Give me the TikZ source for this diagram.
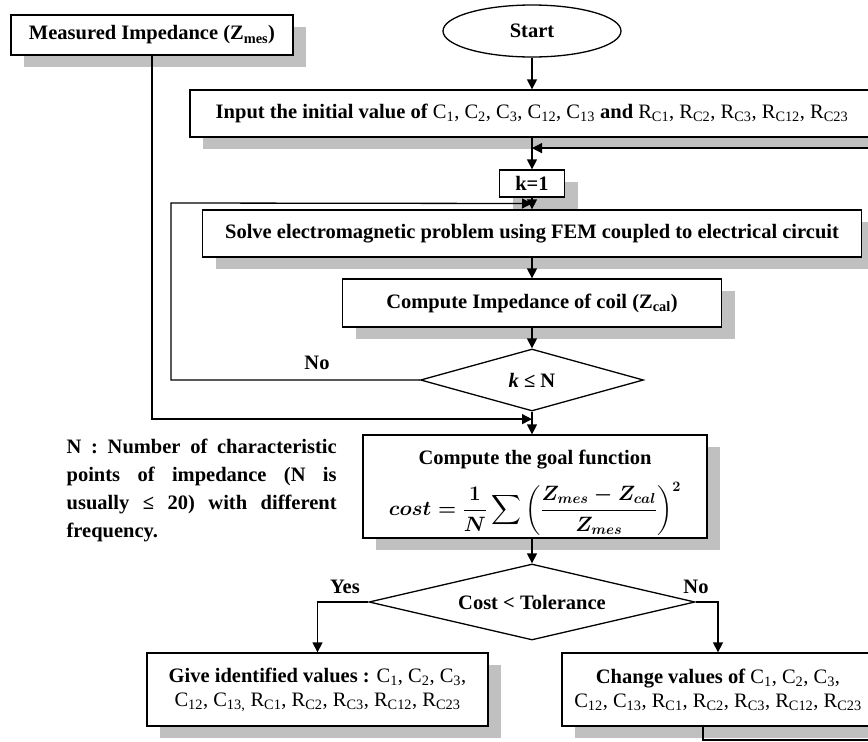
\documentclass[tikz,border=0pt]{standalone}
\usepackage{amsmath}
\usepackage{fontspec}
\setmainfont{Liberation Serif}
\usetikzlibrary{arrows.meta,calc,shapes.geometric,shadows}
\definecolor{shadowgray}{HTML}{C0C0C0}
\newcommand{\Cs}[1]{C\textsubscript{#1}}
\newcommand{\Rs}[1]{R\textsubscript{C#1}}
\newcommand{\costformula}{\raisebox{0pt}[\dimexpr\height+12pt][\dimexpr\depth-12pt]{\mbox{\boldmath$\displaystyle cost=\frac{1}{N}\sum\left(\frac{Z_{mes}-Z_{cal}}{Z_{mes}}\right)^{2}$}}}

\begin{document}
\begin{tikzpicture}[x=1pt,y=-1pt,>={Triangle[length=10pt,width=10pt]},line width=1.3pt,
    every node/.style={font=\fontsize{20.5}{24}\selectfont\bfseries},
    box/.style={draw,fill=white,rectangle,inner sep=2pt,align=center,
        drop shadow={shadow xshift=13pt,shadow yshift=-12pt,fill=shadowgray,opacity=1}},
    decision/.style={draw,fill=white,diamond,inner sep=0pt},
    terminal/.style={draw,ellipse,minimum width=178pt,minimum height=52pt}]

    \path[use as bounding box] (0,0) rectangle (868,742);
    \clip (0,0) rectangle (868,742);

    \node[box,minimum width=282pt,minimum height=40pt] (meas-imp) at (152,35) {Measured Impedance (Z\textsubscript{mes})};
    \node[terminal] (start) at (532,31) {Start};
    \node[box,minimum width=684pt,minimum height=47pt] (input-val) at (532,113.5)
        {Input the initial value of \textmd{\Cs{1}, \Cs{2}, \Cs{3}, \Cs{12}, \Cs{13}} and \textmd{\Rs{1}, \Rs{2}, \Rs{3}, \Rs{12}, \Rs{23}}};
    \node[box,minimum width=65pt,minimum height=27pt,inner sep=0pt] (k-1) at (532,183.5) {k=1};
    \node[box,minimum width=659pt,minimum height=47pt] (solve-fem) at (532,233.5)
        {Solve electromagnetic problem using FEM coupled to electrical circuit};
    \node[box,minimum width=379pt,minimum height=48pt] (comp-z) at (532,303) {Compute Impedance of coil (Z\textsubscript{cal})};
    \node[decision,minimum width=223pt,minimum height=62pt,aspect=3.6] (k-le-n) at (532,380) {\textit{k} ≤ N};
    \node[box,minimum width=344pt,minimum height=103pt] (goal-fn) at (535,486.5)
        {Compute the goal function\\ \costformula};
    \node[decision,minimum width=326pt,minimum height=76pt,aspect=4.3] (cost-tol) at (532,602) {Cost < Tolerance};
    \node[box,minimum width=341pt,minimum height=73pt] (give-val) at (317.5,689.5)
        {Give identified values : \textmd{\Cs{1}, \Cs{2}, \Cs{3},}\\
         \textmd{\Cs{12}, \Cs{13,} \Rs{1}, \Rs{2}, \Rs{3}, \Rs{12}, \Rs{23}}};
    \node[box,minimum width=312pt,minimum height=73pt] (change-val) at (718,689.5)
        {Change values of \textmd{\Cs{1}, \Cs{2}, \Cs{3},}\\
         \textmd{\Cs{12}, \Cs{13}, \Rs{1}, \Rs{2}, \Rs{3}, \Rs{12}, \Rs{23}}};

    \node[anchor=north west,text width=270pt,inner sep=0pt,align=justify,
        font=\fontsize{20.5}{28}\selectfont\bfseries] (note-n) at (66,438)
        {N : Number of characteristic\linebreak points of impedance (N is\linebreak
         usually ≤ 20) with different\linebreak frequency.};

    \node (no-k) at (317,363) {No};
    \node (yes-cost) at (345,587) {Yes};
    \node (no-cost) at (696,587) {No};

    \coordinate (loop-corner) at (171,203);
    \coordinate (fb-corner) at (900,740);

    \path[->] (start) edge (input-val);
    \path[->] (input-val) edge (k-1);
    \path[->] (k-1) edge (solve-fem);
    \path[->] (solve-fem) edge (comp-z);
    \path[->] (comp-z) edge (k-le-n);
    \draw[->] (k-le-n.south) -- (k-le-n.south |- goal-fn.north);
    \draw[->] (goal-fn.south -| cost-tol) -- (cost-tol.north);
    \draw[->] (cost-tol.west) -| (give-val.north);
    \draw[->] (cost-tol.east) -| (change-val.north);

    \draw[->] (k-le-n.west) -| (loop-corner) -- ($(k-1.south)!.5!(solve-fem.north)$);
    \draw[->] (meas-imp.south) |- ($(k-le-n.south)!.33!(k-le-n.south |- goal-fn.north)$);
    \draw[->] ([xshift=-15pt]change-val.south) |- (fb-corner) |- ($(input-val.south)!.33!(k-1.north)$);

\end{tikzpicture}
\end{document}
